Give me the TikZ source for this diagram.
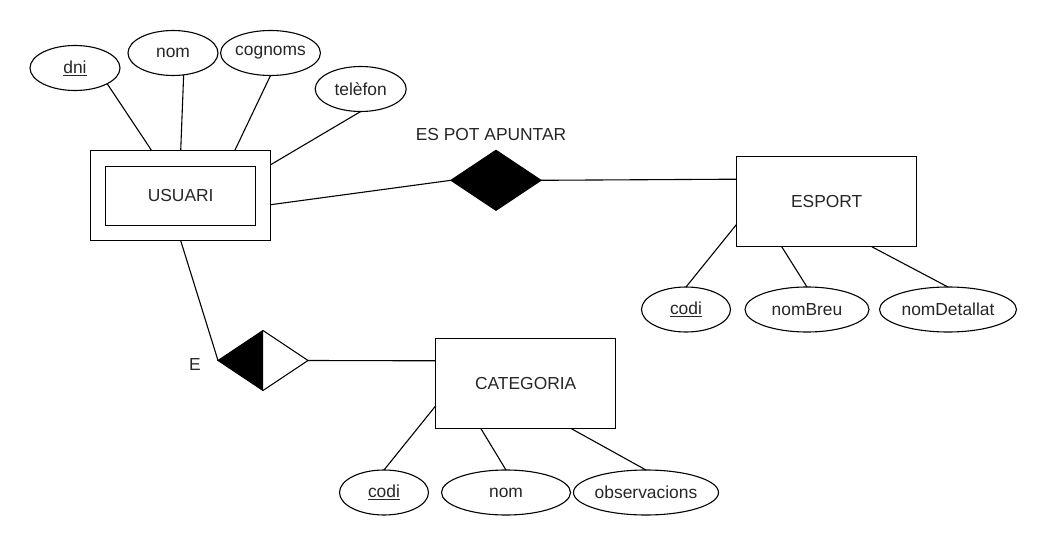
\documentclass[tikz,border=0pt]{standalone}
\usepackage{fontspec}
\setmainfont{Liberation Sans}
\usetikzlibrary{shapes.geometric,positioning}

\begin{document}
\begin{tikzpicture}[x=1pt, y=-1pt,
    every node/.style={font=\fontsize{17.4}{20}\selectfont, text=black!85},
    entity/.style={rectangle, draw, line width=1.1pt, minimum width=180pt, minimum height=90pt, outer sep=0pt},
    weakin/.style={rectangle, draw, line width=1.1pt, minimum width=150pt, minimum height=59pt, outer sep=0pt},
    attrib/.style={ellipse, draw, line width=1.1pt, minimum height=45pt, inner sep=0pt, outer sep=0pt},
    relation/.style={diamond, draw, line width=1.1pt, minimum width=90pt, minimum height=60pt, inner sep=0pt, outer sep=0pt},
    link/.style={draw, line width=1.1pt}
]
    \useasboundingbox (0,0) rectangle (1047,548);

    % entitats
    \node[entity] (usuari) at (180.7,195.7) {};
    \node[weakin] (usuariin) at (usuari.center) {USUARI};
    \node[entity] (esport) at (826.7,201.7) {ESPORT};
    \node[entity] (categoria) at (525.7,383.3) {CATEGORIA};

    % relacions
    \node[relation, fill=black] (apuntar) at (496,180.3) {};
    \node (apuntarlbl) at (491,135) {ES POT APUNTAR};
    \node[relation] (e) at (263,360.5) {};
    \fill (e.north) -- (e.west) -- (e.south) -- cycle;
    \node (elbl) at (195,365) {E};

    % atributs
    \node[attrib, minimum width=90pt] (dni) at (75,68) {\underline{dni}};
    \node[attrib, minimum width=90pt] (nom) at (173,53) {nom};
    \node[attrib, minimum width=91pt] (cognoms) at (270.5,53) {cognoms};
    \node[attrib, minimum width=91pt] (telefon) at (360.7,89) {telèfon};

    \node[attrib, minimum width=89pt] (codie) at (686,309.5) {\underline{codi}};
    \node[attrib, minimum width=124pt] (nombreu) at (807,309.5) {nomBreu};
    \node[attrib, minimum width=137pt] (nomdetallat) at (948,309.5) {nomDetallat};

    \node[attrib, minimum width=89pt] (codic) at (384,492.5) {\underline{codi}};
    \node[attrib, minimum width=129pt] (nomc) at (506,492.5) {nom};
    \node[attrib, minimum width=138pt] (observacions) at (646,492.5) {observacions};

    % connexions
    \path[link] (dni.-26) -- ([xshift=-29pt]usuari.north);
    \path[link] (nom.-64) -- (usuari.north);
    \path[link] (cognoms.south) -- ([xshift=54pt]usuari.north);
    \path[link] (telefon.south) -- ([yshift=31pt]usuari.east);
    \path[link] ([yshift=-9pt]usuari.east) -- (apuntar.west);
    \path[link] (apuntar.east) -- ([yshift=22.5pt]esport.west);
    \path[link] (codie.north) -- ([yshift=-22.5pt]esport.west);
    \path[link] (nombreu.north) -- ([xshift=-45pt]esport.south);
    \path[link] (nomdetallat.north) -- ([xshift=45pt]esport.south);
    \path[link] (usuari.south) -- (e.west);
    \path[link] (e.east) -- ([yshift=22.5pt]categoria.west);
    \path[link] (codic.north) -- ([yshift=-22.5pt]categoria.west);
    \path[link] (nomc.north) -- ([xshift=-45pt]categoria.south);
    \path[link] (observacions.north) -- ([xshift=45pt]categoria.south);
\end{tikzpicture}
\end{document}
